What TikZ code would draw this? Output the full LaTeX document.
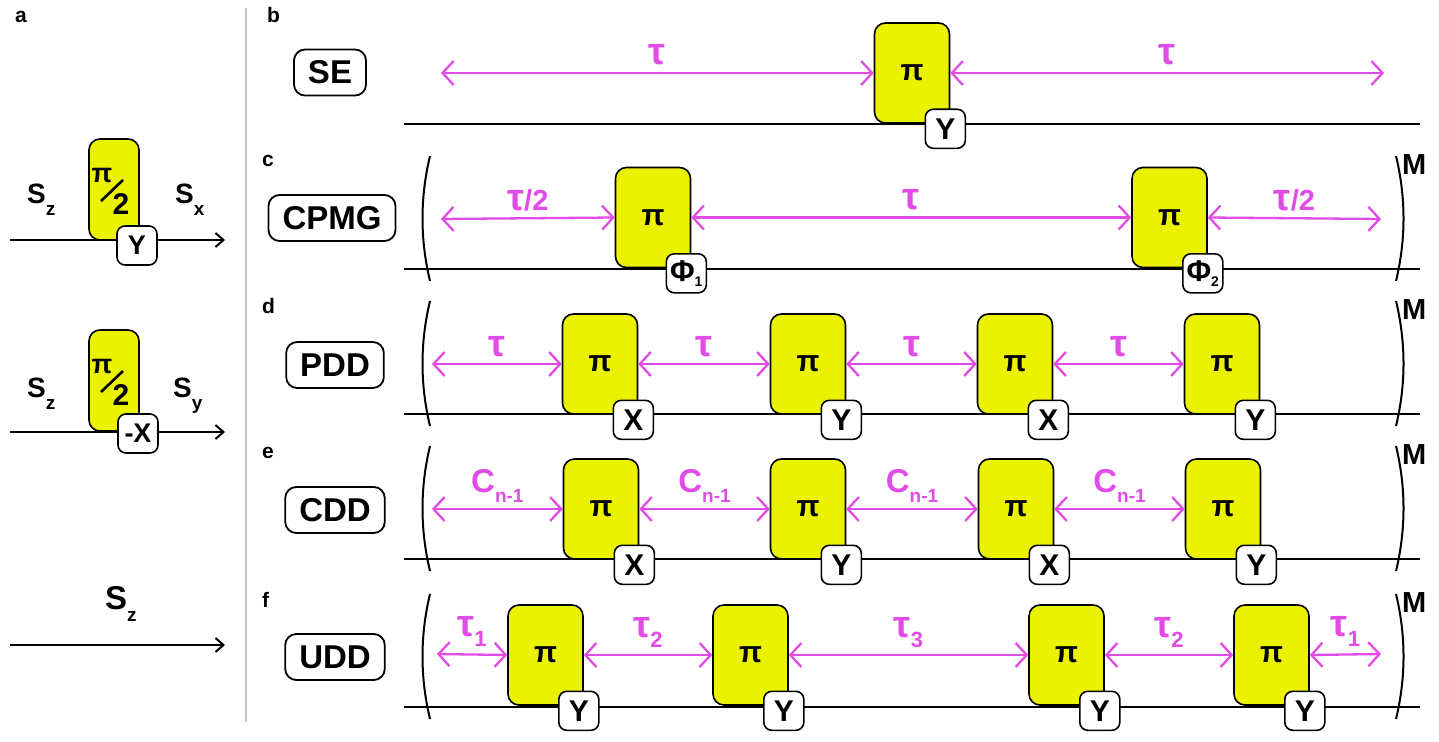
\documentclass[tikz,border=0pt]{standalone}
\usepackage{fontspec}
\setmainfont{Liberation Sans}
\usetikzlibrary{arrows.meta,calc}
\definecolor{pulse}{RGB}{235,242,0}
\definecolor{delay}{RGB}{225,75,230}
\definecolor{divider}{RGB}{195,195,195}

\newcommand{\fs}[1]{\fontsize{#1}{#1}\selectfont}
\newcommand{\tauglyph}{{\fs{38}τ}}
\newcommand{\lowered}[3]{\raisebox{-#1pt}{\fs{#2}#3}}

\begin{document}
\begin{tikzpicture}[x=1pt,y=-1pt,
  pibox/.style={draw=black, line width=1.6pt, fill=pulse, rounded corners=11pt,
    minimum width=75pt, minimum height=100pt, inner sep=0pt, font=\fs{30}\bfseries},
  halfbox/.style={draw=black, line width=1.6pt, fill=pulse, rounded corners=11pt,
    minimum width=50pt, minimum height=101pt, inner sep=0pt},
  phase/.style={draw=black, line width=1.6pt, fill=white, rounded corners=8pt,
    minimum width=40pt, minimum height=39pt, inner sep=0pt, font=\fs{30}\bfseries},
  phasea/.style={phase, font=\fs{27}\bfseries},
  seqname/.style={draw=black, line width=1.8pt, rounded corners=11pt,
    minimum height=46pt, inner xsep=14pt, inner ysep=0pt, font=\fs{33}\bfseries},
  tline/.style={line width=2pt},
  axis/.style={line width=2pt, -{Straight Barb[length=8pt,width=14pt]}},
  darr/.style={draw=delay, line width=2.3pt,
    {Straight Barb[length=11pt,width=24pt]}-{Straight Barb[length=11pt,width=24pt]}},
  dlbl/.style={text=delay, font=\fs{29}\bfseries, anchor=base, inner sep=0pt},
  plain/.style={dlbl, yshift=8pt},
  subbed/.style={dlbl, yshift=18pt},
  spin/.style={font=\fs{28}\bfseries, anchor=base west, inner sep=0pt},
  panel/.style={font=\fs{21}\bfseries, anchor=base west, inner sep=0pt},
  mlbl/.style={font=\fs{29}\bfseries, anchor=base west, inner sep=0pt},
  brk/.style={line width=2pt},
]
\useasboundingbox (0,0) rectangle (1439,741);

% ---------- panel a ----------
\node[panel] (la) at (15,23) {a};
\draw[divider, line width=2pt] (246,8) -- (246,722);

% rotation about y
\coordinate (a1s) at (10,240); \coordinate (a1e) at (225,240);
\draw[axis] (a1s) -- (a1e);
\node[halfbox] (a1p) at (114,189.5) {};
\node[font=\fs{27}\bfseries, inner sep=0pt] (a1pi) at (102,175) {π};
\draw[line width=2.6pt] (101,201) -- (123,180);
\node[font=\fs{30}\bfseries, inner sep=0pt] (a1two) at (121,204) {2};
\node[phasea] (a1ph) at (137,245.5) {Y};
\node[spin] (a1in) at (27,203) {S\lowered{12}{19}{z}};
\node[spin] (a1out) at (175,203) {S\lowered{12}{19}{x}};

% rotation about -x
\coordinate (a2s) at (10,432); \coordinate (a2e) at (225,432);
\draw[axis] (a2s) -- (a2e);
\node[halfbox] (a2p) at (114,380.5) {};
\node[font=\fs{27}\bfseries, inner sep=0pt] (a2pi) at (102,366) {π};
\draw[line width=2.6pt] (101,392) -- (123,371);
\node[font=\fs{30}\bfseries, inner sep=0pt] (a2two) at (121,395) {2};
\node[phasea] (a2ph) at (138,433.5) {-X};
\node[spin] (a2in) at (27,397) {S\lowered{12}{19}{z}};
\node[spin] (a2out) at (173,397) {S\lowered{12}{19}{y}};

% free evolution
\coordinate (a3s) at (10,645); \coordinate (a3e) at (225,645);
\draw[axis] (a3s) -- (a3e);
\node[spin, font=\fs{33}\bfseries] (a3in) at (105,609) {S\lowered{12}{19}{z}};

% ---------- panel b: spin echo ----------
\node[panel] (lb) at (267,23) {b};
\coordinate (bs) at (404,124); \coordinate (be) at (1420,124);
\draw[tline] (bs) -- (be);
\node[seqname] (se) at (330,72.5) {SE};
\node[pibox] (b1) at (912,73) {π};
\node[phase] (b1ph) at ($(b1.south east)+(-5,5)$) {Y};
\coordinate (bL) at (441,73); \coordinate (bR) at (1384,73);
\draw[darr] (bL) -- node[plain] (bt1) {\tauglyph} (b1.west);
\draw[darr] (b1.east) -- node[plain] (bt2) {\tauglyph} (bR);

% brackets around a repeated block, with repetition count M
\newcommand{\repeatbrackets}[2]{%
  \draw[brk] (430,#1) .. controls (420,{#1+(#2-#1)/3}) and (420,{#1+2*(#2-#1)/3}) .. (430,#2);
  \draw[brk] (1396,#1) .. controls (1406,{#1+(#2-#1)/3}) and (1406,{#1+2*(#2-#1)/3}) .. (1396,#2);
  \node[mlbl] at (1402,{#1+18}) {M};}

% ---------- panel c: CPMG ----------
\node[panel] (lc) at (262,166) {c};
\coordinate (cs) at (404,269); \coordinate (ce) at (1420,269);
\draw[tline] (cs) -- (ce);
\repeatbrackets{156}{281}
\node[seqname] (cpmg) at (332,218) {CPMG};
\node[pibox] (c1) at (653,217.5) {π};
\node[pibox] (c2) at (1169.5,217.5) {π};
\node[phase] (c1ph) at ($(c1.south east)+(-5,5)$) {Φ\lowered{5}{14}{1}};
\node[phase] (c2ph) at ($(c2.south east)+(-5,5)$) {Φ\lowered{5}{14}{2}};
\coordinate (cL) at (441,219); \coordinate (cR) at (1381,219);
\draw[darr] (cL) -- node[plain] {\tauglyph/2} (c1.west);
\draw[darr] (c1.east) -- node[plain] {\tauglyph} (c2.west);
\draw[darr] (c2.east) -- node[plain] {\tauglyph/2} (cR);

% ---------- panel d: PDD ----------
\node[panel] (ld) at (262,313) {d};
\coordinate (ds) at (404,414); \coordinate (de) at (1420,414);
\draw[tline] (ds) -- (de);
\repeatbrackets{301}{426}
\node[seqname] (pdd) at (335,365) {PDD};
\node[pibox] (d1) at (600,364) {π};
\node[pibox] (d2) at (808,364) {π};
\node[pibox] (d3) at (1015,364) {π};
\node[pibox] (d4) at (1222,364) {π};
\node[phase] at ($(d1.south east)+(-5,5)$) {X};
\node[phase] at ($(d2.south east)+(-5,5)$) {Y};
\node[phase] at ($(d3.south east)+(-5,5)$) {X};
\node[phase] at ($(d4.south east)+(-5,5)$) {Y};
\coordinate (dL) at (432,364);
\draw[darr] (dL) -- node[plain] {\tauglyph} (d1.west);
\draw[darr] (d1.east) -- node[plain] {\tauglyph} (d2.west);
\draw[darr] (d2.east) -- node[plain] {\tauglyph} (d3.west);
\draw[darr] (d3.east) -- node[plain] {\tauglyph} (d4.west);

% ---------- panel e: CDD ----------
\node[panel] (le) at (262,458) {e};
\coordinate (es) at (404,559); \coordinate (ee) at (1420,559);
\draw[tline] (es) -- (ee);
\repeatbrackets{446}{571}
\node[seqname] (cdd) at (335,510) {CDD};
\node[pibox] (e1) at (601,509) {π};
\node[pibox] (e2) at (808,509) {π};
\node[pibox] (e3) at (1016,509) {π};
\node[pibox] (e4) at (1223,509) {π};
\node[phase] at ($(e1.south east)+(-5,5)$) {X};
\node[phase] at ($(e2.south east)+(-5,5)$) {Y};
\node[phase] at ($(e3.south east)+(-5,5)$) {X};
\node[phase] at ($(e4.south east)+(-5,5)$) {Y};
\coordinate (eL) at (432,509);
\draw[darr] (eL) -- node[subbed, yshift=-1pt] {{\fs{33}C}\lowered{10}{19}{n-1}} (e1.west);
\draw[darr] (e1.east) -- node[subbed, yshift=-1pt] {{\fs{33}C}\lowered{10}{19}{n-1}} (e2.west);
\draw[darr] (e2.east) -- node[subbed, yshift=-1pt] {{\fs{33}C}\lowered{10}{19}{n-1}} (e3.west);
\draw[darr] (e3.east) -- node[subbed, yshift=-1pt] {{\fs{33}C}\lowered{10}{19}{n-1}} (e4.west);

% ---------- panel f: UDD ----------
\node[panel] (lf) at (262,607) {f};
\coordinate (fs) at (404,707); \coordinate (fe) at (1420,707);
\draw[tline] (fs) -- (fe);
\repeatbrackets{594}{719}
\node[seqname] (udd) at (335,657) {UDD};
\node[pibox] (f1) at (545.5,655) {π};
\node[pibox] (f2) at (750.5,655) {π};
\node[pibox] (f3) at (1066.5,655) {π};
\node[pibox] (f4) at (1271.5,655) {π};
\node[phase] at ($(f1.south east)+(-5,5)$) {Y};
\node[phase] at ($(f2.south east)+(-5,5)$) {Y};
\node[phase] at ($(f3.south east)+(-5,5)$) {Y};
\node[phase] at ($(f4.south east)+(-5,5)$) {Y};
\coordinate (fL) at (437,654); \coordinate (fR) at (1381,654);
\draw[darr] (fL) -- node[subbed] {\tauglyph\lowered{10}{22}{1}} (f1.west);
\draw[darr] (f1.east) -- node[subbed] {\tauglyph\lowered{10}{22}{2}} (f2.west);
\draw[darr] (f2.east) -- node[subbed] {\tauglyph\lowered{10}{22}{3}} (f3.west);
\draw[darr] (f3.east) -- node[subbed] {\tauglyph\lowered{10}{22}{2}} (f4.west);
\draw[darr] (f4.east) -- node[subbed] {\tauglyph\lowered{10}{22}{1}} (fR);
\end{tikzpicture}
\end{document}
